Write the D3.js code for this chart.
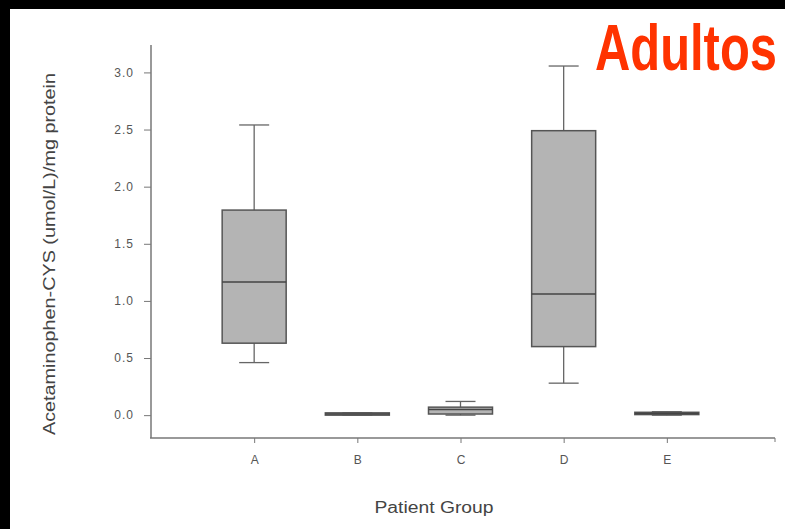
<!DOCTYPE html>
<html>
<head>
<meta charset="utf-8">
<script src="https://cdn.jsdelivr.net/npm/d3@7"></script>
<style>
  html, body { margin: 0; padding: 0; background: #000; }
  svg { display: block; }
</style>
</head>
<body>
<div id="chart"></div>
<script>
// patient groups and box statistics
var groups = ['A', 'B', 'C', 'D', 'E'];
var mins    = [0.46, 0.00, 0.00, 0.28, 0.00];
var q1s     = [0.63, 0.00, 0.01, 0.60, 0.005];
var medians = [1.165, 0.01, 0.05, 1.06, 0.015];
var q3s     = [1.795, 0.02, 0.07, 2.49, 0.025];
var maxs    = [2.54, 0.02, 0.12, 3.056, 0.03];
var yTicks  = [0, 0.5, 1.0, 1.5, 2.0, 2.5, 3.0];

var width = 785, height = 529;

var svg = d3.select('#chart')
    .append('svg')
    .attr('width', width)
    .attr('height', height)
    .style('background-color', '#000');

// white page inside the black frame
svg.append('rect')
    .attr('x', 10).attr('y', 9)
    .attr('width', width - 10).attr('height', height - 9)
    .attr('fill', '#fff');

var x = d3.scalePoint()
    .domain(groups)
    .range([151, 770])
    .padding(1);

var y = d3.scaleLinear()
    .domain([-0.2, 3.24])
    .range([438, 45]);

var boxes = groups.map(function (g, i) {
    return { name: g, min: mins[i], q1: q1s[i], med: medians[i], q3: q3s[i], max: maxs[i] };
});

var axisColor = '#777';

// y axis
var yAxis = svg.append('g')
    .attr('transform', 'translate(151,0)')
    .call(d3.axisLeft(y).tickValues(yTicks).tickSize(7).tickPadding(10)
        .tickFormat(d3.format('.1f')));
yAxis.select('.domain').remove();
yAxis.selectAll('line').attr('stroke', axisColor);
yAxis.selectAll('text')
    .attr('font-family', 'Liberation Sans, Arial, sans-serif')
    .attr('font-size', 12)
    .attr('letter-spacing', 1)
    .attr('fill', '#555');
svg.append('line')
    .attr('x1', 151).attr('x2', 151)
    .attr('y1', y.range()[1]).attr('y2', y.range()[0])
    .attr('stroke', axisColor).attr('stroke-width', 1.5);

// x axis
var xAxis = svg.append('g')
    .attr('transform', 'translate(0,438)')
    .call(d3.axisBottom(x).tickSize(5).tickPadding(12));
xAxis.select('.domain').remove();
xAxis.selectAll('line').attr('stroke', axisColor);
xAxis.selectAll('text')
    .attr('font-family', 'Liberation Sans, Arial, sans-serif')
    .attr('font-size', 12)
    .attr('fill', '#555');
svg.append('line')
    .attr('x1', 150).attr('x2', 775)
    .attr('y1', 438).attr('y2', 438)
    .attr('stroke', axisColor).attr('stroke-width', 1.5);
svg.append('line')
    .attr('x1', 775).attr('x2', 775)
    .attr('y1', 438).attr('y2', 442)
    .attr('stroke', axisColor);

// boxes
var boxW = 64, capW = 30;
var g = svg.selectAll('.box')
    .data(boxes)
    .enter().append('g')
    .attr('class', 'box');

g.append('line')
    .attr('x1', function (d) { return x(d.name); })
    .attr('x2', function (d) { return x(d.name); })
    .attr('y1', function (d) { return y(d.max); })
    .attr('y2', function (d) { return y(d.min); })
    .attr('stroke', '#666').attr('stroke-width', 1.3);

g.selectAll('.cap')
    .data(function (d) { return [d.min, d.max].map(function (v) { return { name: d.name, v: v }; }); })
    .enter().append('line')
    .attr('x1', function (d) { return x(d.name) - capW / 2; })
    .attr('x2', function (d) { return x(d.name) + capW / 2; })
    .attr('y1', function (d) { return y(d.v); })
    .attr('y2', function (d) { return y(d.v); })
    .attr('stroke', '#666').attr('stroke-width', 1.3);

g.append('rect')
    .attr('x', function (d) { return x(d.name) - boxW / 2; })
    .attr('y', function (d) { return y(d.q3); })
    .attr('width', boxW)
    .attr('height', function (d) { return Math.max(2, y(d.q1) - y(d.q3)); })
    .attr('fill', '#b4b4b4')
    .attr('stroke', '#555').attr('stroke-width', 1.5);

g.append('line')
    .attr('x1', function (d) { return x(d.name) - boxW / 2; })
    .attr('x2', function (d) { return x(d.name) + boxW / 2; })
    .attr('y1', function (d) { return y(d.med); })
    .attr('y2', function (d) { return y(d.med); })
    .attr('stroke', '#444').attr('stroke-width', 1.5);

// axis titles
svg.append('text')
    .attr('transform', 'translate(55,254) rotate(-90)')
    .attr('text-anchor', 'middle')
    .attr('font-family', 'Liberation Sans, Arial, sans-serif')
    .attr('font-size', 17)
    .attr('fill', '#444')
    .attr('textLength', 362)
    .attr('lengthAdjust', 'spacingAndGlyphs')
    .text('Acetaminophen-CYS (umol/L)/mg protein');

svg.append('text')
    .attr('x', 434).attr('y', 513)
    .attr('text-anchor', 'middle')
    .attr('font-family', 'Liberation Sans, Arial, sans-serif')
    .attr('font-size', 16)
    .attr('fill', '#444')
    .attr('textLength', 119)
    .attr('lengthAdjust', 'spacingAndGlyphs')
    .text('Patient Group');

// title: narrow bold look, squeezed horizontally to fit the corner
var title = svg.append('text')
    .attr('x', 0).attr('y', 0)
    .attr('font-family', 'Liberation Sans, Arial, sans-serif')
    .attr('font-weight', 'bold')
    .attr('font-size', 64)
    .attr('fill', '#ff3300')
    .text('Adultos');
var tw = title.node().getComputedTextLength();
title.attr('transform', 'translate(595,70) scale(' + (182 / tw) + ',1)');
</script>
</body>
</html>
